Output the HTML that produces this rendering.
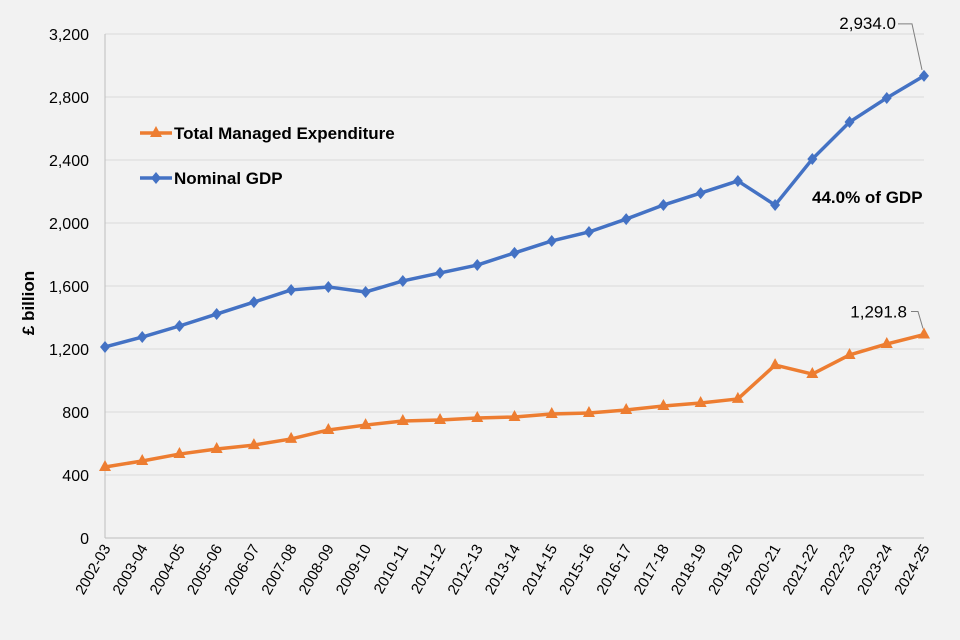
<!DOCTYPE html>
<html><head><meta charset="utf-8"><style>
body{margin:0;background:#f2f2f2;}
svg{display:block;font-family:"Liberation Sans",sans-serif;}
</style></head><body>
<svg id="chart" width="960" height="640"></svg>
<script>
const categories=["2002-03","2003-04","2004-05","2005-06","2006-07","2007-08","2008-09","2009-10","2010-11","2011-12","2012-13","2013-14","2014-15","2015-16","2016-17","2017-18","2018-19","2019-20","2020-21","2021-22","2022-23","2023-24","2024-25"];
const gdpValues=[1213,1276,1346,1422,1498,1575,1594,1562,1632,1683,1733,1810,1886,1943,2025,2114,2190,2267,2114,2406,2641,2794,2934.0];
const tmeValues=[451,489,533,565,590,629,686,717,743,749,762,768,787,794,813,838,857,883,1098,1041,1162,1232,1291.8];
const yTicks=[0,400,800,1200,1600,2000,2400,2800,3200];
const yTickLabels=["0","400","800","1,200","1,600","2,000","2,400","2,800","3,200"];

const NS="http://www.w3.org/2000/svg";
const svg=document.getElementById('chart');
const x0=105,x1=924,yBase=538,yTop=34,yMax=3200;
function xs(i){return x0+(x1-x0)*i/(categories.length-1);}
function ys(v){return yBase-(yBase-yTop)*v/yMax;}
function mk(t,a,txt){const e=document.createElementNS(NS,t);for(const k in a)e.setAttribute(k,a[k]);if(txt!==undefined)e.textContent=txt;svg.appendChild(e);return e;}

yTicks.forEach((v,i)=>{
  const g=mk('line',{x1:x0,x2:x1,y1:ys(v),y2:ys(v),stroke:'#d9d9d9','stroke-width':1});
  
  
  const t=mk('text',{x:89,y:ys(v)+6,'text-anchor':'end','font-size':16,fill:'#000'},yTickLabels[i]);
  
  
});
const ax=mk('line',{x1:x0,x2:x0,y1:yTop,y2:yBase,stroke:'#bfbfbf'});


const xa=mk('line',{x1:x0,x2:x1,y1:yBase,y2:yBase,stroke:'#bfbfbf'});


categories.forEach((c,i)=>{
  const t=mk('text',{x:xs(i)+6,y:548,'text-anchor':'end','font-size':15,transform:`rotate(-60 ${xs(i)+6} 548)`},c);
  
  
});
const yt=mk('text',{x:0,y:0,'font-size':17,'font-weight':'bold','text-anchor':'middle',transform:'translate(34 303) rotate(-90)'},'£ billion');



function series(vals,color,shape,name){
  const p=mk('polyline',{points:vals.map((v,i)=>xs(i)+','+ys(v)).join(' '),fill:'none',stroke:color,'stroke-width':3.5,'stroke-linejoin':'round'});
  
  
  vals.forEach((v,i)=>{
    const x=xs(i),y=ys(v);
    const pts=shape==='d'?`${x},${y-6} ${x+5},${y} ${x},${y+6} ${x-5},${y}`:`${x},${y-7} ${x+6},${y+4} ${x-6},${y+4}`;
    const m=mk('polygon',{points:pts,fill:color});
    
    
  });
}
series(tmeValues,'#ed7d31','t','tme');
series(gdpValues,'#4472c4','d','gdp');

const n=categories.length-1;
const l1=mk('text',{x:896,y:ys(gdpValues[n])-47,'font-size':17,'text-anchor':'end'},gdpValues[n].toLocaleString('en-GB',{minimumFractionDigits:1}));


mk('polyline',{points:`898,${ys(gdpValues[n])-52} 912,${ys(gdpValues[n])-52} ${xs(n)-2},${ys(gdpValues[n])-6}`,fill:'none',stroke:'#7f7f7f'});
const l2=mk('text',{x:907,y:ys(tmeValues[n])-17,'font-size':17,'text-anchor':'end'},tmeValues[n].toLocaleString('en-GB',{minimumFractionDigits:1}));


mk('polyline',{points:`911,${ys(tmeValues[n])-23} 918,${ys(tmeValues[n])-23} ${xs(n)-1},${ys(tmeValues[n])-6}`,fill:'none',stroke:'#7f7f7f'});
const pc=mk('text',{x:812,y:203,'font-size':17,'font-weight':'bold'},(tmeValues[n]/gdpValues[n]*100).toFixed(1)+'% of GDP');



function legend(y,color,shape,label,name){
  const ln=mk('line',{x1:140,x2:172,y1:y,y2:y,stroke:color,'stroke-width':3.5});
  
  
  const x=156;
  const pts=shape==='d'?`${x},${y-6} ${x+5},${y} ${x},${y+6} ${x-5},${y}`:`${x},${y-7} ${x+6},${y+4} ${x-6},${y+4}`;
  const m=mk('polygon',{points:pts,fill:color});
  
  
  const t=mk('text',{x:174,y:y+6,'font-size':17,'font-weight':'bold'},label);
  
  
}
legend(133,'#ed7d31','t','Total Managed Expenditure','tme');
legend(178,'#4472c4','d','Nominal GDP','gdp');
</script>
</body></html>
